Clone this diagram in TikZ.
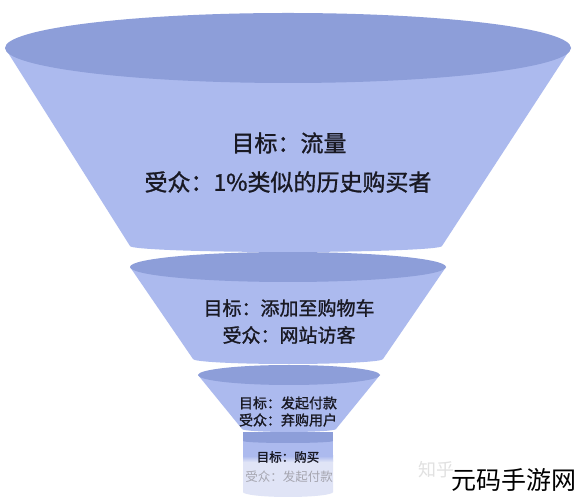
\documentclass[tikz,border=0pt]{standalone}
\usepackage{fontspec}
\newfontfamily\cjk{Noto Sans CJK SC}
\newfontfamily\cjkb[FakeBold=1.2]{Noto Sans CJK SC}
\definecolor{rimc}{RGB}{141,158,217}
\definecolor{bodyc}{RGB}{172,186,238}
\definecolor{palec}{RGB}{224,228,246}
\definecolor{txtc}{RGB}{25,25,35}
\begin{document}
\begin{tikzpicture}[x=1pt,y=1pt,
  rim/.style={fill=rimc,draw=none},
  body/.style={fill=bodyc,draw=none},
  lbl/.style={font=\cjkb,text=txtc,inner sep=0pt,align=center}]
\useasboundingbox (0,0) rectangle (578,500);
\fill[white] (0,0) rectangle (578,500);
% cylinder (bottom stage)
\fill[palec] (243,40) -- (243,8) arc[start angle=180,end angle=360,x radius=45,y radius=5] -- (333,40) -- cycle;
\shade[top color=bodyc,bottom color=palec] (243,44) rectangle (333,38);
\fill[bodyc] (243,68) rectangle (333,44);
\fill[rimc] (243,68) rectangle (333,59);
\fill[rimc] (288,59) ellipse[x radius=45,y radius=2];
% stage 3
\path[body] (198,125) -- (242,71) arc[start angle=180,end angle=360,x radius=47,y radius=3] -- (380,125) -- cycle;
\path[rim] (289,125) ellipse[x radius=91,y radius=10];
% stage 2
\path[body] (130,233) -- (193,141) arc[start angle=180,end angle=360,x radius=95,y radius=5] -- (446,233) -- cycle;
\path[rim] (288,233) ellipse[x radius=158,y radius=15];
% stage 1
\path[body] (5,452) -- (130,254) arc[start angle=180,end angle=360,x radius=156,y radius=6] -- (571,452) -- cycle;
\path[rim] (288,452) ellipse[x radius=283,y radius=35];
% labels
\node[lbl,font=\cjkb\fontsize{23}{23}\selectfont] (t1a) at (289,357) {目标：流量};
\node[lbl,font=\cjkb\fontsize{23}{23}\selectfont] (t1b) at (288,318) {受众：1\%类似的历史购买者};
\node[lbl,font=\cjkb\fontsize{19}{19}\selectfont] (t2a) at (289,192) {目标：添加至购物车};
\node[lbl,font=\cjkb\fontsize{19}{19}\selectfont] (t2b) at (289,165) {受众：网站访客};
\node[lbl,font=\cjkb\fontsize{14}{14}\selectfont] (t3a) at (288,97) {目标：发起付款};
\node[lbl,font=\cjkb\fontsize{14}{14}\selectfont] (t3b) at (288,80) {受众：弃购用户};
\node[lbl,font=\cjkb\fontsize{12.5}{12.5}\selectfont] (t4a) at (288,43) {目标：购买};
\node[lbl,font=\cjk\fontsize{12.5}{12.5}\selectfont,text={rgb,255:red,165;green,165;blue,175}] (t4b) at (289,23) {受众：发起付款};
% watermark
\node[lbl,font=\cjk\fontsize{18}{18}\selectfont,text={rgb,255:red,225;green,225;blue,225}] (wm1) at (436,30) {知乎};
\node[lbl,font=\cjk\fontsize{25}{25}\selectfont,text=black] (wm2) at (514,20) {元码手游网};
\end{tikzpicture}
\end{document}
